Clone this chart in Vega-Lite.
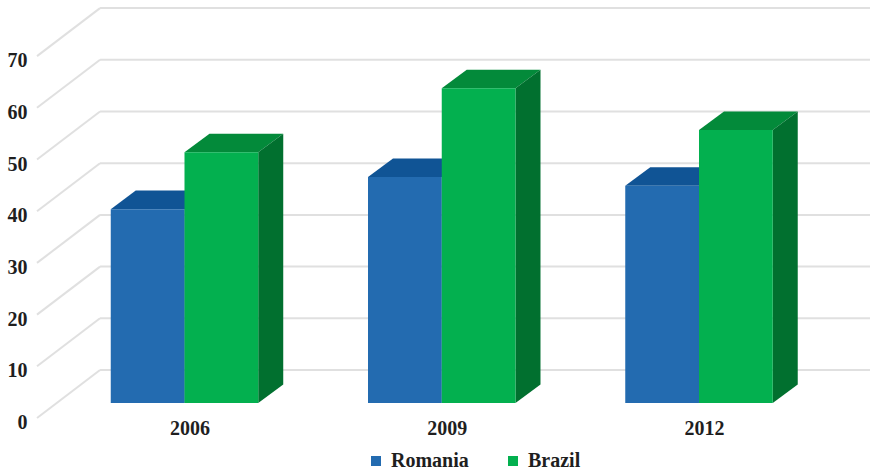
{
  "$schema": "https://vega.github.io/schema/vega-lite/v6.json",
  "width": 870,
  "height": 473,
  "padding": 0,
  "autosize": {"type": "none"},
  "background": "#ffffff",
  "config": {
    "view": {"stroke": null},
    "font": "Liberation Serif",
    "axis": {"labelFont": "Liberation Serif", "labelFontWeight": "bold", "labelFontSize": 20, "labelColor": "#1f1f1f", "domain": false, "ticks": false, "grid": false, "title": null},
    "legend": {"labelFont": "Liberation Serif", "labelFontWeight": "bold", "labelFontSize": 20, "labelColor": "#1f1f1f"}
  },
  "datasets": {
    "shares": [
      {"year": 2006, "series": "Romania", "value": 37.5},
      {"year": 2006, "series": "Brazil", "value": 48.5},
      {"year": 2009, "series": "Romania", "value": 43.7},
      {"year": 2009, "series": "Brazil", "value": 60.9},
      {"year": 2012, "series": "Romania", "value": 42},
      {"year": 2012, "series": "Brazil", "value": 52.8}
    ],
    "levels": [
      {"level": 0}, {"level": 10}, {"level": 20}, {"level": 30},
      {"level": 40}, {"level": 50}, {"level": 60}, {"level": 70}
    ]
  },
  "layer": [
    {
      "description": "Back wall grid lines",
      "data": {"name": "levels"},
      "transform": [{"calculate": "datum.level + 6.383", "as": "back"}],
      "mark": {"type": "rule", "color": "#e0e0e0", "strokeWidth": 2},
      "encoding": {
        "x": {"datum": 2005.015, "type": "quantitative", "scale": {"domain": [2003.8484, 2013.9942], "nice": false}},
        "x2": {"datum": 2013.9942},
        "y": {"field": "back", "type": "quantitative", "scale": {"domain": [-13.54, 77.95], "nice": false}}
      }
    },
    {
      "description": "Floor-to-wall diagonals of the grid",
      "data": {"name": "levels"},
      "transform": [
        {"calculate": "datum.level + 6.383", "as": "back"},
        {"calculate": "datum.level - 2.9", "as": "front"}
      ],
      "mark": {"type": "rule", "color": "#e0e0e0", "strokeWidth": 2},
      "encoding": {
        "x": {"datum": 2005.015, "type": "quantitative", "scale": {"domain": [2003.8484, 2013.9942], "nice": false}},
        "x2": {"datum": 2004.28},
        "y": {"field": "back", "type": "quantitative", "scale": {"domain": [-13.54, 77.95], "nice": false}},
        "y2": {"field": "front"}
      }
    },
    {
      "description": "Top faces of the columns",
      "data": {"name": "shares"},
      "transform": [
        {"calculate": "datum.series === 'Romania' ? datum.year - 0.86 : datum.year", "as": "left"},
        {"calculate": "[0, 1, 2, 3]", "as": "corner"},
        {"flatten": ["corner"]},
        {"calculate": "[datum.left, datum.left + 0.2915, datum.left + 0.86, datum.left + 1.1515][datum.corner]", "as": "xa"},
        {"calculate": "datum.corner === 0 ? datum.value : datum.value + 3.58", "as": "upper"},
        {"calculate": "datum.corner === 3 ? datum.value + 3.58 : datum.value", "as": "lower"},
        {"calculate": "datum.series + datum.year", "as": "column"}
      ],
      "mark": {"type": "area", "orient": "vertical", "interpolate": "linear"},
      "encoding": {
        "x": {"field": "xa", "type": "quantitative", "scale": {"domain": [2003.8484, 2013.9942], "nice": false}},
        "y": {"field": "upper", "type": "quantitative", "stack": null, "scale": {"domain": [-13.54, 77.95], "nice": false}},
        "y2": {"field": "lower"},
        "detail": {"field": "column"},
        "color": {"condition": {"test": "datum.series === 'Brazil'", "value": "#038a3a"}, "value": "#105495"}
      }
    },
    {
      "description": "Right-hand side faces of the columns",
      "data": {"name": "shares"},
      "transform": [
        {"calculate": "datum.series === 'Romania' ? datum.year : datum.year + 0.86", "as": "right"},
        {"calculate": "[0, 1]", "as": "corner"},
        {"flatten": ["corner"]},
        {"calculate": "datum.right + datum.corner * 0.2915", "as": "xa"},
        {"calculate": "datum.value + datum.corner * 3.58", "as": "upper"},
        {"calculate": "datum.corner * 3.58", "as": "lower"},
        {"calculate": "datum.series + datum.year", "as": "column"}
      ],
      "mark": {"type": "area", "orient": "vertical", "interpolate": "linear"},
      "encoding": {
        "x": {"field": "xa", "type": "quantitative", "scale": {"domain": [2003.8484, 2013.9942], "nice": false}},
        "y": {"field": "upper", "type": "quantitative", "stack": null, "scale": {"domain": [-13.54, 77.95], "nice": false}},
        "y2": {"field": "lower"},
        "detail": {"field": "column"},
        "color": {"condition": {"test": "datum.series === 'Brazil'", "value": "#01702f"}, "value": "#0d4f8c"}
      }
    },
    {
      "description": "Front faces of the columns, with the axes and legend",
      "data": {"name": "shares"},
      "transform": [
        {"calculate": "datum.series === 'Romania' ? datum.year - 0.86 : datum.year", "as": "left"},
        {"calculate": "datum.left + 0.86", "as": "right"}
      ],
      "mark": {"type": "rect"},
      "encoding": {
        "x": {
          "field": "left",
          "type": "quantitative",
          "scale": {"domain": [2003.8484, 2013.9942], "nice": false},
          "axis": {"values": [2006, 2009, 2012], "format": "d", "orient": "bottom", "offset": -55, "labelPadding": 0, "labelOffset": 5, "labelBaseline": "top", "labelOverlap": false, "labelFlush": false}
        },
        "x2": {"field": "right"},
        "y": {
          "field": "value",
          "type": "quantitative",
          "stack": null,
          "scale": {"domain": [-13.54, 77.95], "nice": false},
          "axis": {
            "values": [0, 10, 20, 30, 40, 50, 60, 70],
            "orient": "left",
            "offset": -27,
            "labelPadding": 0,
            "labelOffset": 19.5,
            "labelOverlap": false,
            "labelFlush": false
          }
        },
        "y2": {"datum": 0},
        "color": {
          "field": "series",
          "type": "nominal",
          "scale": {"domain": ["Romania", "Brazil"], "range": ["#236bb0", "#03b04f"]},
          "legend": {"title": null, "orient": "none", "legendX": 366, "legendY": 451, "direction": "horizontal", "columns": 2, "symbolType": "square", "symbolSize": 100, "symbolOpacity": 1, "symbolStrokeWidth": 0, "labelOffset": 5, "columnPadding": 34, "padding": 0}
        }
      }
    }
  ]
}
